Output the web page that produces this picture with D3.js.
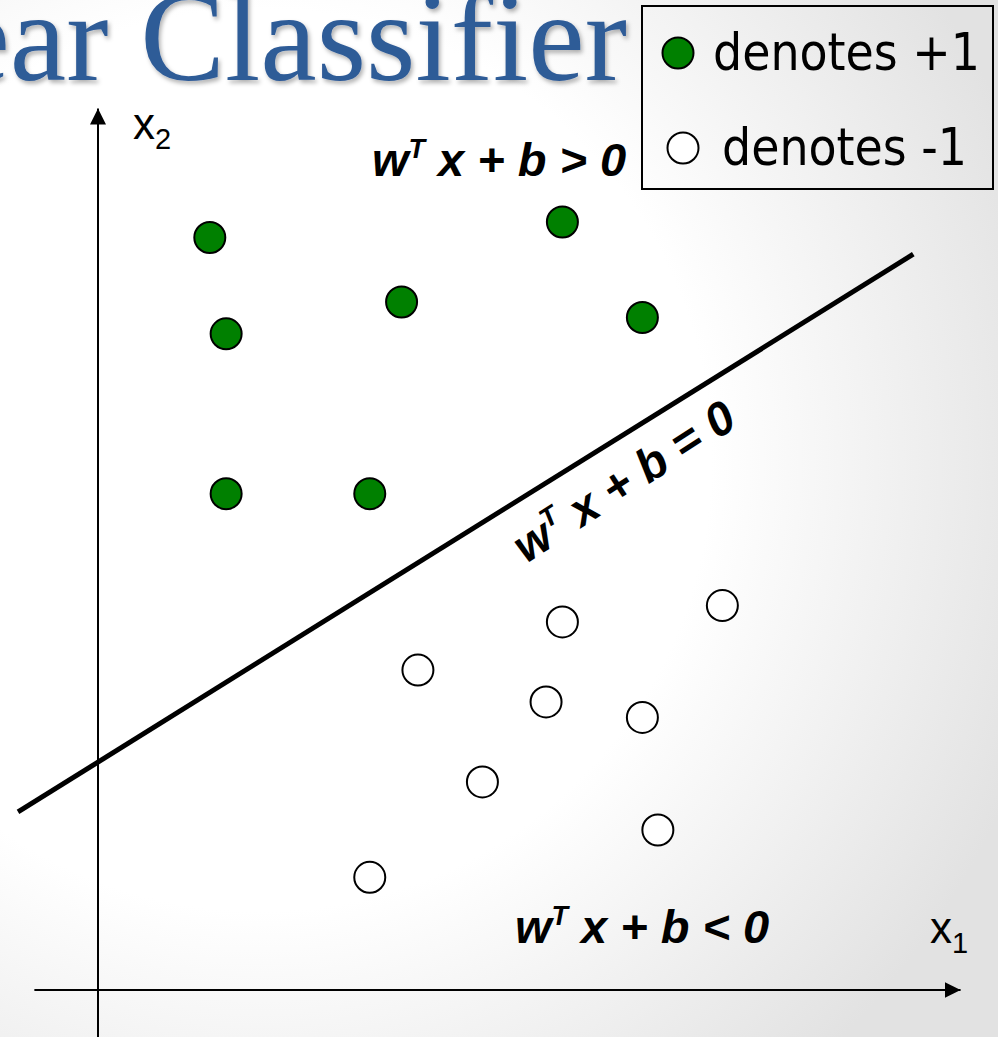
<!DOCTYPE html>
<html>
<head>
<meta charset="utf-8">
<script src="https://cdn.jsdelivr.net/npm/d3@7/dist/d3.min.js"></script>
<style>
  html, body { margin: 0; padding: 0; background: #fff; }
  svg { display: block; }
</style>
</head>
<body>
<div id="chart"></div>
<script>
// Positive class (+1) samples, feature space (x1, x2)
const positiveX1 = [1.30, 5.40, 3.53, 6.33, 1.49, 1.49, 3.16];
const positiveX2 = [8.75, 8.93, 8.00, 7.82, 7.63, 5.77, 5.77];

// Negative class (-1) samples
const negativeX1 = [5.40, 7.26, 3.72, 5.21, 6.33, 4.47, 6.51, 3.16];
const negativeX2 = [4.28, 4.47, 3.72, 3.35, 3.17, 2.42, 1.86, 1.31];

// Decision boundary w^T x + b = 0, written as x2 = slope * x1 + intercept
const boundaryX1 = [-0.93, 9.48];
const boundarySlope = 0.623;
const boundaryIntercept = 2.65;

// Extents of the drawn x1 / x2 axes
const axisX1Extent = [-0.74, 10.03];
const axisX2Extent = [-0.55, 10.25];

const legendLabels = ["denotes +1", "denotes -1"];
const axisLabels = ["x", "x"];
const axisSubscripts = ["1", "2"];

const W = 998, H = 1037;

const svg = d3.select("#chart").append("svg")
  .attr("width", W).attr("height", H)
  .attr("viewBox", `0 0 ${W} ${H}`);

const defs = svg.append("defs");

// soft slide-style background: white centre fading to light grey at the edges
const bg = defs.append("radialGradient")
  .attr("id", "bgGrad")
  .attr("gradientUnits", "userSpaceOnUse")
  .attr("cx", 260).attr("cy", 460).attr("r", 820);
bg.append("stop").attr("offset", 0.55).attr("stop-color", "#ffffff");
bg.append("stop").attr("offset", 1).attr("stop-color", "#e2e2e2");

const shadow = defs.append("filter").attr("id", "titleShadow")
  .attr("x", "-10%").attr("y", "-10%").attr("width", "130%").attr("height", "140%");
shadow.append("feDropShadow")
  .attr("dx", 2).attr("dy", 3).attr("stdDeviation", 2)
  .attr("flood-color", "#000").attr("flood-opacity", 0.3);

defs.append("marker")
  .attr("id", "arrow")
  .attr("viewBox", "0 0 16 16")
  .attr("refX", 16).attr("refY", 8)
  .attr("markerWidth", 16).attr("markerHeight", 16)
  .attr("markerUnits", "userSpaceOnUse")
  .attr("orient", "auto")
  .append("path")
  .attr("d", "M0,0 L16,8 L0,16 Z")
  .attr("fill", "#000");

svg.append("rect").attr("width", W).attr("height", H).attr("fill", "url(#bgGrad)");

// slide title
svg.append("text")
  .attr("x", 627).attr("y", 80)
  .attr("text-anchor", "end")
  .attr("font-family", "'Liberation Serif', 'DejaVu Serif', serif")
  .attr("font-size", 127)
  .attr("fill", "#2f5b97")
  .attr("filter", "url(#titleShadow)")
  .text("Linear Classifier");

// scales: feature space -> pixels
const x = d3.scaleLinear().domain([0, 10]).range([98, 958]);
const y = d3.scaleLinear().domain([0, 10]).range([990, 130]);

// axes with arrow heads
const g = svg.append("g");
g.append("line")
  .attr("x1", x(axisX1Extent[0])).attr("x2", x(axisX1Extent[1]))
  .attr("y1", y(0)).attr("y2", y(0))
  .attr("stroke", "#000").attr("stroke-width", 2)
  .attr("marker-end", "url(#arrow)");
g.append("line")
  .attr("x1", x(0)).attr("x2", x(0))
  .attr("y1", y(axisX2Extent[0])).attr("y2", y(axisX2Extent[1]))
  .attr("stroke", "#000").attr("stroke-width", 2)
  .attr("marker-end", "url(#arrow)");

// axis labels x1 and x2
const axisFont = "'Liberation Sans', Arial, sans-serif";
const axisLabelPos = [[930, 943], [133, 139]];
axisLabels.forEach((lab, i) => {
  const t = svg.append("text")
    .attr("x", axisLabelPos[i][0]).attr("y", axisLabelPos[i][1])
    .attr("font-family", axisFont).attr("font-size", 44).attr("fill", "#000");
  t.append("tspan").text(lab);
  t.append("tspan").attr("font-size", 29).attr("dy", 10).text(axisSubscripts[i]);
});

// decision boundary
const boundary = d3.line()
  .x(d => x(d))
  .y(d => y(boundarySlope * d + boundaryIntercept));
svg.append("path")
  .datum(boundaryX1)
  .attr("d", boundary)
  .attr("fill", "none")
  .attr("stroke", "#000")
  .attr("stroke-width", 5);

// sample points
const positives = positiveX1.map((v, i) => ({x1: v, x2: positiveX2[i]}));
const negatives = negativeX1.map((v, i) => ({x1: v, x2: negativeX2[i]}));

svg.append("g").selectAll("circle").data(positives).join("circle")
  .attr("cx", d => x(d.x1)).attr("cy", d => y(d.x2)).attr("r", 15.5)
  .attr("fill", "#008000").attr("stroke", "#000").attr("stroke-width", 2);

svg.append("g").selectAll("circle").data(negatives).join("circle")
  .attr("cx", d => x(d.x1)).attr("cy", d => y(d.x2)).attr("r", 15.5)
  .attr("fill", "#fff").attr("stroke", "#000").attr("stroke-width", 2);

// region / boundary annotations
const eqFont = "'Liberation Sans', Arial, sans-serif";
function equation(sel, rest) {
  const t = sel.attr("font-family", eqFont).attr("font-size", 47)
    .attr("font-weight", "bold").attr("font-style", "italic").attr("fill", "#000");
  t.append("tspan").text("w");
  t.append("tspan").attr("font-size", 27).attr("dy", -18).text("T");
  t.append("tspan").attr("dy", 18).text(rest);
  return t;
}
equation(svg.append("text").attr("x", 372).attr("y", 176), " x + b > 0");
equation(svg.append("text").attr("x", 515).attr("y", 943), " x + b < 0");
equation(svg.append("text")
  .attr("transform", "translate(526,564) rotate(-33)"), " x + b = 0");

// legend
const legend = svg.append("g");
legend.append("rect")
  .attr("x", 642).attr("y", 6).attr("width", 351).attr("height", 183)
  .attr("fill", "none").attr("stroke", "#000").attr("stroke-width", 2);
const legendRows = [
  {fill: "#008000", cx: 678, cy: 53, tx: 713, ty: 70},
  {fill: "#ffffff", cx: 683, cy: 148, tx: 722, ty: 165}
];
legendRows.forEach((r, i) => {
  legend.append("circle").attr("cx", r.cx).attr("cy", r.cy).attr("r", 15.5)
    .attr("fill", r.fill).attr("stroke", "#000").attr("stroke-width", 2);
  legend.append("text")
    .attr("x", r.tx).attr("y", r.ty)
    .attr("font-family", "'DejaVu Sans Condensed', 'DejaVu Sans', sans-serif")
    .attr("font-stretch", "condensed")
    .attr("font-size", 51)
    .attr("fill", "#000")
    .text(legendLabels[i]);
});
</script>
</body>
</html>
